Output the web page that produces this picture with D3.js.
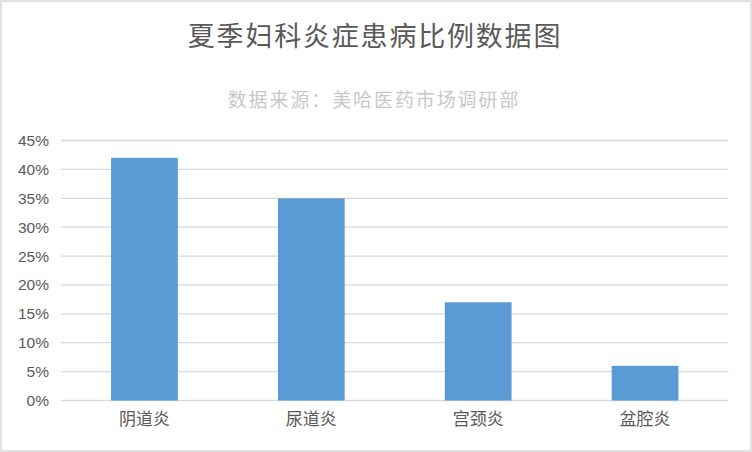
<!DOCTYPE html>
<html>
<head>
<meta charset="utf-8">
<script src="https://cdn.jsdelivr.net/npm/d3@7"></script>
<style>
  body { margin: 0; background: #fff; }
  svg { display: block; }
</style>
</head>
<body>
<div id="chart"></div>
<script>
var categories = ["阴道炎", "尿道炎", "宫颈炎", "盆腔炎"];
var values = [0.42, 0.35, 0.17, 0.06];
var yTicks = [0, 0.05, 0.10, 0.15, 0.20, 0.25, 0.30, 0.35, 0.40, 0.45];
var title = "夏季妇科炎症患病比例数据图";
var subtitle = "数据来源：美哈医药市场调研部";

var width = 752, height = 452;
var margin = { top: 140.5, left: 61, right: 23.5, bottom: 51.5 };
var font = "'Noto Sans CJK SC', 'Noto Sans', sans-serif";

var svg = d3.select("#chart")
  .append("svg")
  .attr("width", width)
  .attr("height", height);

// outer frame
svg.append("rect")
  .attr("x", 1).attr("y", 1)
  .attr("width", width - 2).attr("height", height - 2)
  .attr("fill", "#fff")
  .attr("stroke", "#d9d9d9")
  .attr("stroke-width", 1.5);

// title + source line (letter-spacing to match the wider original font)
svg.append("text")
  .attr("x", 375).attr("y", 46)
  .attr("text-anchor", "middle")
  .attr("font-family", font)
  .attr("font-size", 27)
  .attr("letter-spacing", 1.8)
  .attr("fill", "#595959")
  .text(title);

svg.append("text")
  .attr("x", 374).attr("y", 107)
  .attr("text-anchor", "middle")
  .attr("font-family", font)
  .attr("font-size", 19)
  .attr("letter-spacing", 1.9)
  .attr("fill", "#c8c8c8")
  .text(subtitle);

var x = d3.scaleBand()
  .domain(categories)
  .range([margin.left, width - margin.right])
  .paddingInner(0.6)
  .paddingOuter(0.3);

var y = d3.scaleLinear()
  .domain([0, 0.45])
  .range([height - margin.bottom, margin.top]);

// gridlines
svg.append("g")
  .selectAll("line")
  .data(yTicks)
  .enter()
  .append("line")
  .attr("x1", margin.left)
  .attr("x2", width - margin.right)
  .attr("y1", function(d) { return y(d); })
  .attr("y2", function(d) { return y(d); })
  .attr("stroke", "#d9d9d9")
  .attr("stroke-width", 1.3);

// y axis labels
var yAxis = d3.axisLeft(y)
  .tickValues(yTicks)
  .tickFormat(d3.format(".0%"))
  .tickSize(0)
  .tickPadding(12);

var gy = svg.append("g")
  .attr("transform", "translate(" + margin.left + ",0)")
  .call(yAxis);
gy.select(".domain").remove();
gy.selectAll("text")
  .attr("font-family", "'Liberation Sans', 'DejaVu Sans', sans-serif")
  .attr("font-size", 15.5)
  .attr("fill", "#595959");

// bars
svg.append("g")
  .selectAll("rect")
  .data(values)
  .enter()
  .append("rect")
  .attr("x", function(d, i) { return x(categories[i]); })
  .attr("y", function(d) { return y(d); })
  .attr("width", x.bandwidth())
  .attr("height", function(d) { return y(0) - y(d); })
  .attr("fill", "#5b9bd5");

// x axis labels
var xAxis = d3.axisBottom(x).tickSize(0).tickPadding(12);
var gx = svg.append("g")
  .attr("transform", "translate(0," + y(0) + ")")
  .call(xAxis);
gx.select(".domain").remove();
gx.selectAll("text")
  .attr("font-family", font)
  .attr("font-size", 17)
  .attr("fill", "#595959");
</script>
</body>
</html>
